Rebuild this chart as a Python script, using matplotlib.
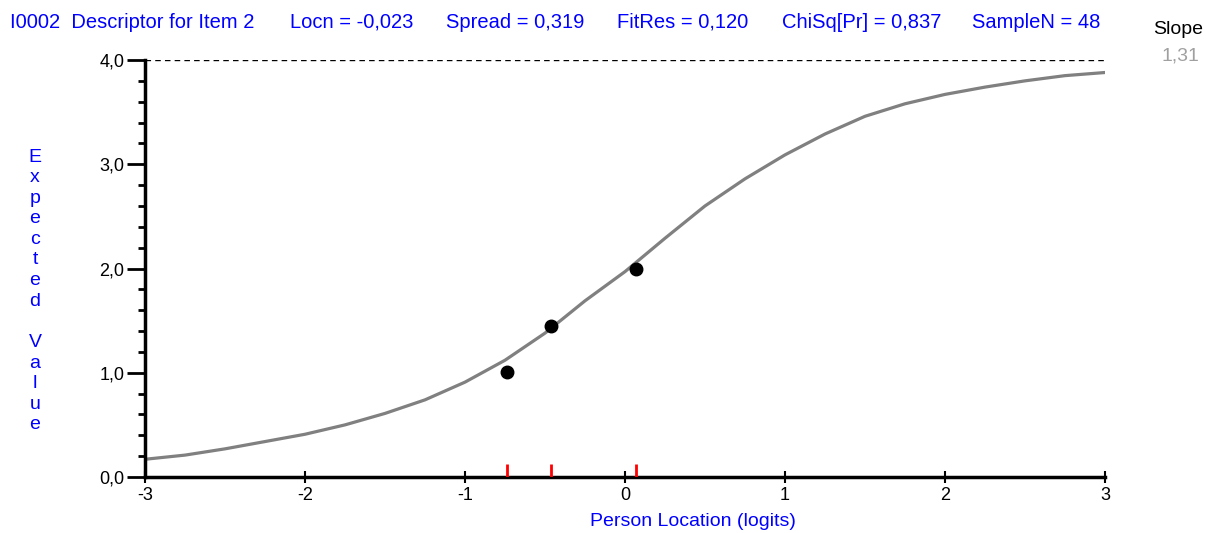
import numpy as np
import matplotlib.pyplot as plt
from matplotlib.ticker import MultipleLocator, FuncFormatter

# expected-value curve
curve_x = [-3.0, -2.75, -2.5, -2.25, -2.0, -1.75, -1.5, -1.25, -1.0, -0.75, -0.5, -0.25,
           0.0, 0.25, 0.5, 0.75, 1.0, 1.25, 1.5, 1.75, 2.0, 2.25, 2.5, 2.75, 3.0]
curve_y = [0.17, 0.21, 0.27, 0.34, 0.41, 0.50, 0.61, 0.74, 0.91, 1.12, 1.38, 1.69,
           1.97, 2.29, 2.60, 2.86, 3.09, 3.29, 3.46, 3.58, 3.67, 3.74, 3.80, 3.85, 3.88]

# observed class means
obs_x = [-0.74, -0.46, 0.07]
obs_y = [1.01, 1.45, 2.00]

header = ["I0002  Descriptor for Item 2", "Locn = -0,023", "Spread = 0,319",
          "FitRes = 0,120", "ChiSq[Pr] = 0,837", "SampleN = 48"]
header_x = [10, 290, 446, 617, 782, 972]
slope = "1,31"

blue = '#0000ff'
plt.rcParams['font.family'] = ['Liberation Sans', 'DejaVu Sans']

W, H = 1207, 533
fig = plt.figure(figsize=(W / 100, H / 100), dpi=100)
ax = fig.add_axes([145 / W, (H - 477) / H, 960 / W, 417 / H])

ax.plot(curve_x, curve_y, color='#808080', lw=2.3, zorder=2, solid_joinstyle='round')
ax.plot(obs_x, obs_y, 'o', color='black', ms=9, zorder=3)
ax.vlines(obs_x, 0, 0.12, color='red', lw=2, zorder=3)
ax.plot([-3, 3], [4, 4], color='black', ls=(0, (4, 3)), lw=1)

ax.set_xlim(-3, 3)
ax.set_ylim(0, 4)
ax.xaxis.set_major_locator(MultipleLocator(1))
ax.yaxis.set_major_locator(MultipleLocator(1))
ax.yaxis.set_minor_locator(MultipleLocator(0.2))
ax.xaxis.set_major_formatter(FuncFormatter(lambda v, p: '%d' % round(v)))
ax.yaxis.set_major_formatter(FuncFormatter(lambda v, p: ('%.1f' % v).replace('.', ',')))
ax.tick_params(axis='y', which='major', length=13, width=2, labelsize=13, pad=2)
ax.tick_params(axis='y', which='minor', length=5, width=2)
ax.tick_params(axis='x', which='major', direction='inout', length=8, width=1.5, labelsize=13, pad=3)
for s in ['top', 'right']:
    ax.spines[s].set_visible(False)
for s in ['left', 'bottom']:
    ax.spines[s].set_linewidth(2.5)

# x label sits right of the axis centre in the original
fig.text(693 / W, 1 - 521 / H, 'Person Location (logits)', color=blue, fontsize=14,
         ha='center', va='center')

for t, xp in zip(header, header_x):
    fig.text(xp / W, 1 - 22 / H, t, color=blue, fontsize=14.5, va='center', ha='left')
fig.text(1178 / W, 1 - 30 / H, 'Slope', color='black', fontsize=14, va='center', ha='center')
fig.text(1180 / W, 1 - 56 / H, slope, color='#a0a0a0', fontsize=14, va='center', ha='center')

letters = list("Expected") + [''] + list("Value")
for i, ch in enumerate(letters):
    fig.text(35 / W, 1 - (157 + i * 20.6) / H, ch, color=blue, fontsize=14, va='center', ha='center')

fig.savefig('out.png', dpi=100)
